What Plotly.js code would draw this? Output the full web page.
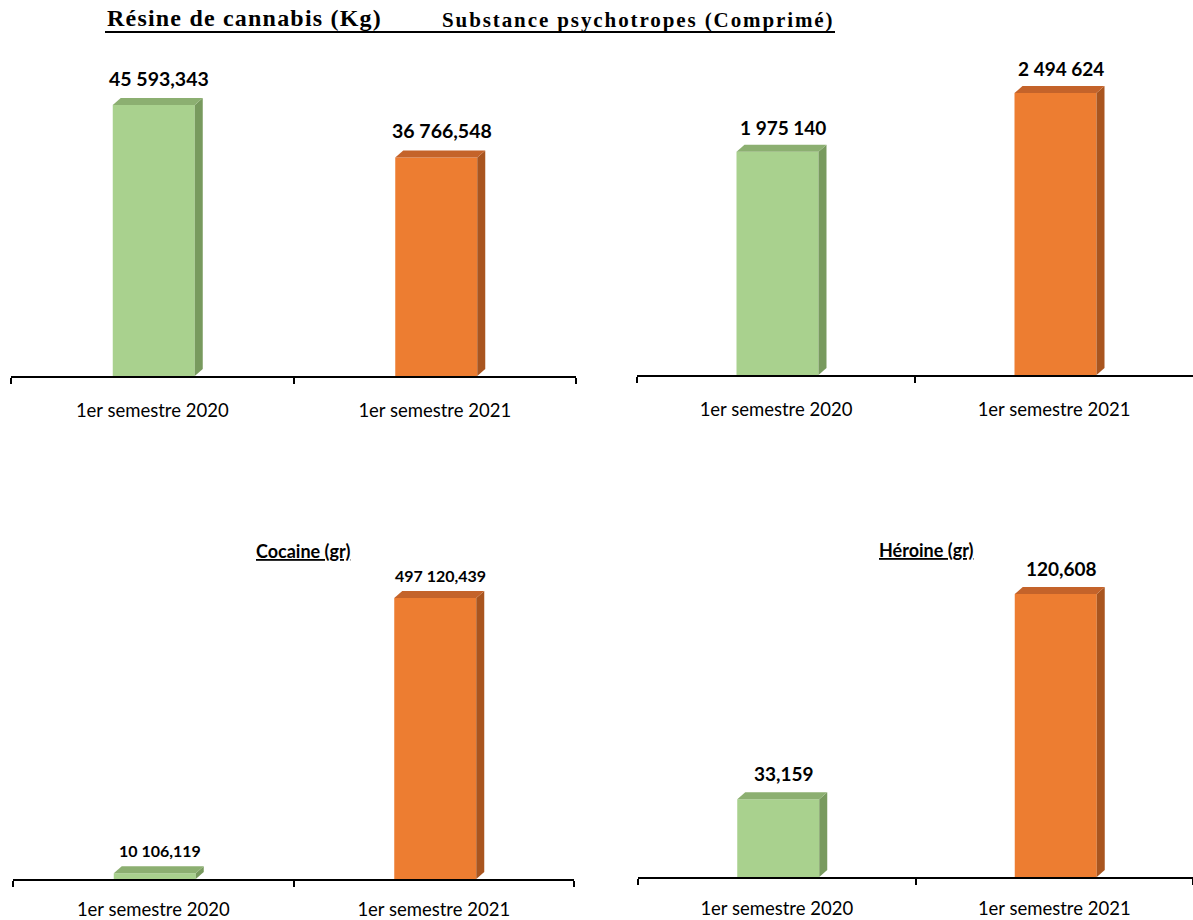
<!DOCTYPE html>
<html><head><meta charset="utf-8">
<script src="https://cdn.plot.ly/plotly-3.0.1.min.js"></script>
<style>html,body{margin:0;padding:0;background:#fff;overflow:hidden;} #chart{width:1193px;height:920px;}</style>
</head><body><div id="chart"></div>
<script>
// ---- data ----
const categories = ['1er semestre 2020', '1er semestre 2021'];
const resineValues = [45593.343, 36766.548];
const resineLabels = ['45 593,343', '36 766,548'];
const psychoValues = [1975140, 2494624];
const psychoLabels = ['1 975 140', '2 494 624'];
const cocaineValues = [10106.119, 497120.439];
const cocaineLabels = ['10 106,119', '497 120,439'];
const heroineValues = [33.159, 120.608];
const heroineLabels = ['33,159', '120,608'];

// ---- styling / layout ----
const W = 1193, H = 920;
const frontColors = ['#A9D18E', '#ED7D31'];
const sideColors = ['#789A5E', '#A9551F'];
const topColors = ['#8CAF71', '#C4632A'];

const panels = [
  {values: resineValues, labels: resineLabels, x0: 11, x1: 576, bottom: 376, top: 40, maxPx: 271, labelSize: 19.5, yshift: 13, standoff: 17},
  {values: psychoValues, labels: psychoLabels, x0: 637, x1: 1193, bottom: 375, top: 40, maxPx: 282, labelSize: 19, yshift: 11, standoff: 17},
  {values: cocaineValues, labels: cocaineLabels, x0: 13, x1: 574, bottom: 879, top: 540, maxPx: 281, labelSize: 16, yshift: 11, standoff: 13},
  {values: heroineValues, labels: heroineLabels, x0: 638, x1: 1193, bottom: 877, top: 540, maxPx: 283, labelSize: 19, yshift: 12, standoff: 14}
];

const data = [];
const shapes = [];
const annotations = [];
const layout = {
  width: W, height: H,
  margin: {l: 0, r: 0, t: 0, b: 0},
  paper_bgcolor: '#fff', plot_bgcolor: 'rgba(0,0,0,0)',
  showlegend: false,
  font: {family: 'Lato, sans-serif', color: '#000'}
};

panels.forEach((p, i) => {
  const s = i === 0 ? '' : String(i + 1);
  const hPx = p.bottom - p.top;
  const maxV = Math.max(...p.values);
  const R = maxV * hPx / p.maxPx;
  const pxPerUnit = hPx / R;
  const catPx = (p.x1 - p.x0) / 2;
  const bw = 82 / catPx;
  const off = -bw / 2 + 1.5 / catPx;
  const dx = 8 / catPx;
  const dy = 7 / pxPerUnit;

  data.push({
    type: 'bar', x: categories, y: p.values,
    xaxis: 'x' + s, yaxis: 'y' + s,
    width: bw, offset: off,
    marker: {color: frontColors, line: {width: 0}},
    hoverinfo: 'none'
  });

  layout['xaxis' + s] = {
    domain: [p.x0 / W, p.x1 / W], anchor: 'y' + s,
    type: 'category', range: [-0.5, 1.5],
    showline: true, linecolor: '#000', linewidth: 2,
    ticks: 'outside', ticklen: 6, tickwidth: 2, tickcolor: '#000',
    tickson: 'boundaries', showgrid: false, zeroline: false,
    ticklabelstandoff: p.standoff,
    tickfont: {family: 'Lato, sans-serif', size: 18.5, color: '#000'},
    fixedrange: true
  };
  layout['yaxis' + s] = {
    domain: [1 - p.bottom / H, 1 - p.top / H], anchor: 'x' + s,
    range: [0, R], visible: false, showgrid: false, zeroline: false, fixedrange: true
  };

  p.values.forEach((v, j) => {
    const xl = j + off, xr = xl + bw;
    shapes.push({
      type: 'path', xref: 'x' + s, yref: 'y' + s, layer: 'above',
      path: `M ${xr},0 L ${xr + dx},${dy} L ${xr + dx},${v + dy} L ${xr},${v} Z`,
      fillcolor: sideColors[j], line: {width: 0}
    });
    shapes.push({
      type: 'path', xref: 'x' + s, yref: 'y' + s, layer: 'above',
      path: `M ${xl},${v} L ${xl + dx},${v + dy} L ${xr + dx},${v + dy} L ${xr},${v} Z`,
      fillcolor: topColors[j], line: {width: 0}
    });
    annotations.push({
      xref: 'x' + s, yref: 'y' + s, x: j, y: v,
      text: '<b>' + p.labels[j] + '</b>', showarrow: false,
      xanchor: 'center', yanchor: 'bottom', xshift: 7, yshift: p.yshift,
      font: {family: 'Lato, sans-serif', size: p.labelSize, color: '#000'}
    });
  });
});

// titles
annotations.push({
  xref: 'paper', yref: 'paper', x: 105 / W, y: 1 - 18 / H, xanchor: 'left', yanchor: 'middle',
  text: '<b><span style="letter-spacing:1.2px">Résine de cannabis (Kg)</span></b>', showarrow: false,
  font: {family: 'Liberation Serif, serif', size: 24, color: '#000'}
});
annotations.push({
  xref: 'paper', yref: 'paper', x: 440 / W, y: 1 - 20 / H, xanchor: 'left', yanchor: 'middle',
  text: '<b><span style="letter-spacing:1.9px">Substance psychotropes (Comprimé)</span></b>', showarrow: false,
  font: {family: 'Liberation Serif, serif', size: 21, color: '#000'}
});
shapes.push({
  type: 'line', xref: 'paper', yref: 'paper',
  x0: 105 / W, x1: 835 / W, y0: 1 - 32 / H, y1: 1 - 32 / H,
  line: {color: '#000', width: 2}
});
annotations.push({
  xref: 'paper', yref: 'paper', x: 303 / W, y: 1 - 551 / H, xanchor: 'center', yanchor: 'middle',
  text: '<u><b>Cocaine (gr)</b></u>', showarrow: false,
  font: {family: 'Lato, sans-serif', size: 18, color: '#000'}
});
annotations.push({
  xref: 'paper', yref: 'paper', x: 926 / W, y: 1 - 550 / H, xanchor: 'center', yanchor: 'middle',
  text: '<u><b>Héroine (gr)</b></u>', showarrow: false,
  font: {family: 'Lato, sans-serif', size: 18, color: '#000'}
});

layout.shapes = shapes;
layout.annotations = annotations;

Plotly.newPlot('chart', data, layout, {staticPlot: true, displayModeBar: false});
</script>
</body></html>
